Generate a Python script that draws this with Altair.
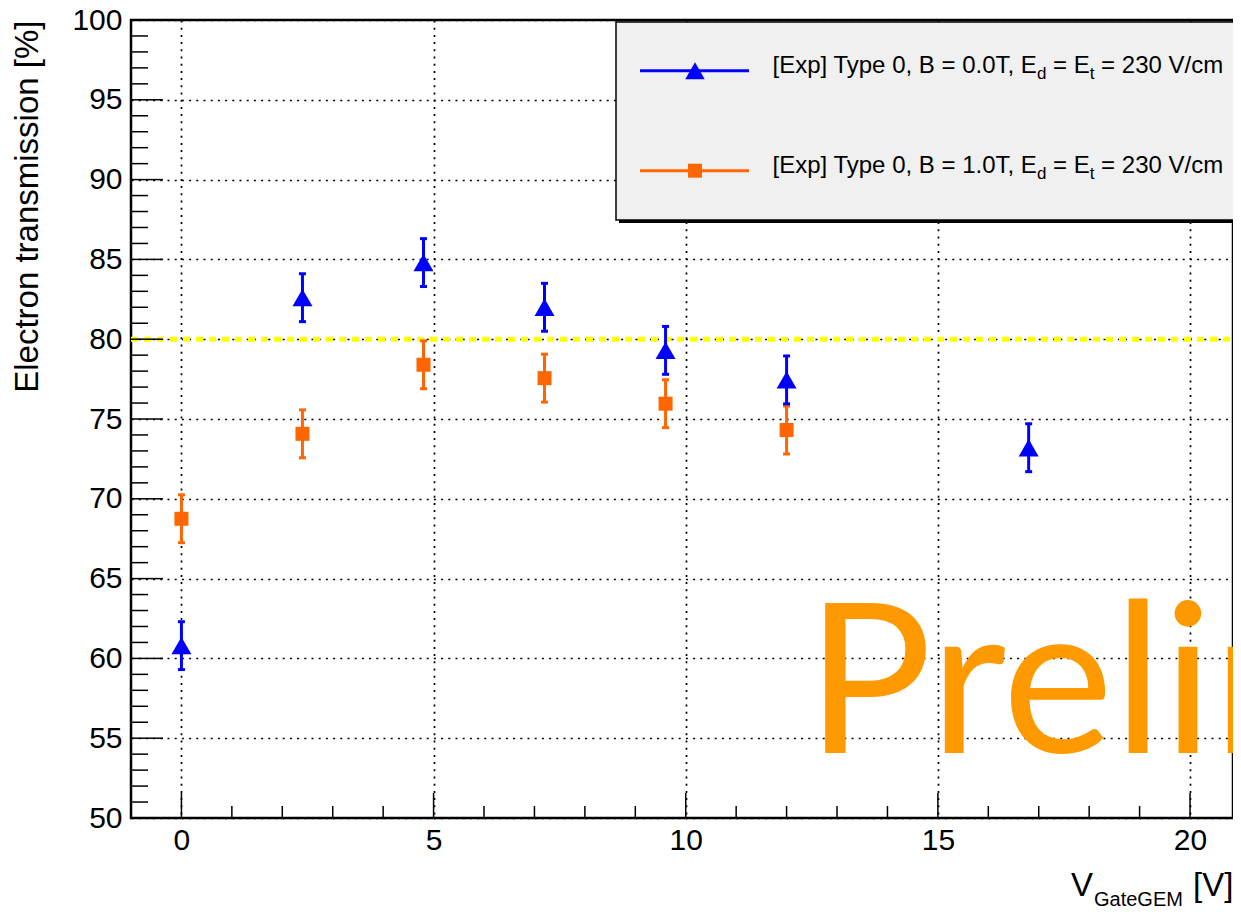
import altair as alt
import pandas as pd

# ---------------- data ----------------
x_blue = [0, 2.4, 4.8, 7.2, 9.6, 12, 16.8]
y_blue = [60.8, 82.6, 84.8, 82.0, 79.3, 77.45, 73.2]
e_blue = [1.5, 1.5, 1.5, 1.5, 1.5, 1.5, 1.5]

x_orange = [0, 2.4, 4.8, 7.2, 9.6, 12]
y_orange = [68.75, 74.07, 78.4, 77.56, 75.96, 74.31]
e_orange = [1.5, 1.5, 1.5, 1.5, 1.5, 1.5]

ref_level = [80]
x_major = [0, 5, 10, 15, 20]
x_minor = [-1, 1, 2, 3, 4, 6, 7, 8, 9, 11, 12, 13, 14, 16, 17, 18, 19]
y_major = [50, 55, 60, 65, 70, 75, 80, 85, 90, 95, 100]
y_minor = [v for v in range(50, 101) if v % 5 != 0]

legend_1 = ["[Exp] Type 0, B = 0.0T, E", "d", " = E", "t", " = 230 V/cm"]
legend_2 = ["[Exp] Type 0, B = 1.0T, E", "d", " = E", "t", " = 230 V/cm"]
y_title = "Electron transmission [%]"
x_title = ["V", "GateGEM", "[V]"]
watermark = "Preliminary"

BLUE = "#0000ff"
ORANGE = "#ff6600"
FONT = "Liberation Sans"

# ---------------- geometry ----------------
PL, PT = 131, 20           # plot origin on page
W, H = 1102, 798
PX_PER_UNIT = 50.43
X_MAX = -1 + W / PX_PER_UNIT

AW = {' ': 278, '[': 278, ']': 278, 'E': 667, 'x': 500, 'p': 556,
      'T': 611, 'y': 500, 'e': 556, ',': 278, 'B': 667, '=': 584, '.': 278,
      'V': 667, '/': 278, 'c': 500, 'm': 833, 'd': 556, 't': 278}
KERN = {('T', 'y'): -74, ('T', ','): -111}


def tw(s, size):
    w = sum(AW.get(ch, 556) for ch in s)
    w += sum(KERN.get((a, b), 0) for a, b in zip(s, s[1:]))
    return w / 1000.0 * size


xs = alt.Scale(domain=[-1, X_MAX], nice=False, zero=False)
ys = alt.Scale(domain=[50, 100], nice=False, zero=False)

AX = alt.Axis(values=x_major, ticks=False, tickSize=0, domain=False, grid=True,
              gridDash=[2, 5.2], gridColor="black", gridWidth=1.7, gridOpacity=1,
              labelFont=FONT, labelFontSize=30, labelColor="black", labelPadding=7,
              labelFlush=False, title=None)
AY = alt.Axis(values=y_major, ticks=False, tickSize=0, domain=False, grid=True,
              gridDash=[2, 5.2], gridColor="black", gridWidth=1.7, gridOpacity=1,
              labelFont=FONT, labelFontSize=30, labelColor="black", labelPadding=9,
              title=y_title, titleFont=FONT, titleFontSize=33, titleFontWeight="normal",
              titleColor="black", titleAngle=270, titleAlign="right",
              titleBaseline="alphabetic", titleX=37 - PL, titleY=0)


def X(f):
    return alt.X(f, scale=xs, axis=AX)


def Y(f):
    return alt.Y(f, scale=ys, axis=AY)


one = pd.DataFrame({"k": [0]})

blue_df = pd.DataFrame({"x": x_blue, "y": y_blue,
                        "lo": [a - b for a, b in zip(y_blue, e_blue)],
                        "hi": [a + b for a, b in zip(y_blue, e_blue)]})
orange_df = pd.DataFrame({"x": x_orange, "y": y_orange,
                          "lo": [a - b for a, b in zip(y_orange, e_orange)],
                          "hi": [a + b for a, b in zip(y_orange, e_orange)]})

layers = []

# watermark
layers.append(alt.Chart(one).mark_text(
    font="Lato", fontSize=210, color="#ff9900", align="left",
    baseline="alphabetic", clip=True).encode(
    x=alt.value(806 - PL), y=alt.value(753 - PT), text=alt.value(watermark)))

# yellow reference line
layers.append(alt.Chart(pd.DataFrame({"y": ref_level})).mark_rule(
    color="#ffff00", strokeWidth=5, strokeDash=[7, 6]).encode(
    y=Y("y:Q"), x=alt.value(0), x2=alt.value(W)))

# inward ticks
layers.append(alt.Chart(pd.DataFrame({"y": y_major})).mark_rule(color="black", strokeWidth=1.5).encode(
    y=Y("y:Q"), x=alt.value(0), x2=alt.value(32)))
layers.append(alt.Chart(pd.DataFrame({"y": y_minor})).mark_rule(color="black", strokeWidth=1.5).encode(
    y=Y("y:Q"), x=alt.value(0), x2=alt.value(17)))
layers.append(alt.Chart(pd.DataFrame({"x": x_major})).mark_rule(color="black", strokeWidth=1.5).encode(
    x=X("x:Q"), y=alt.value(H), y2=alt.value(H - 25)))
layers.append(alt.Chart(pd.DataFrame({"x": x_minor})).mark_rule(color="black", strokeWidth=1.5).encode(
    x=X("x:Q"), y=alt.value(H), y2=alt.value(H - 12)))

# legend box
LX0, LY0, LY1 = 616 - PL, 22 - PT, 220 - PT
layers.append(alt.Chart(one).mark_rect(color="black").encode(
    x=alt.value(LX0 + 3), x2=alt.value(W), y=alt.value(LY0 + 3), y2=alt.value(LY1 + 3)))
layers.append(alt.Chart(one).mark_rect(fill="#f0f0f0", stroke="black", strokeWidth=1.5).encode(
    x=alt.value(LX0), x2=alt.value(W + 5), y=alt.value(LY0), y2=alt.value(LY1)))

for (ly, color, shape, size, pieces) in [
        (70.7, BLUE, "triangle-up", 380, legend_1),
        (170.7, ORANGE, "square", 196, legend_2)]:
    layers.append(alt.Chart(one).mark_rule(color=color, strokeWidth=3).encode(
        x=alt.value(640 - PL), x2=alt.value(749 - PL), y=alt.value(ly - PT)))
    layers.append(alt.Chart(one).mark_point(shape=shape, filled=True, size=size,
                                            color=color, opacity=1).encode(
        x=alt.value(695 - PL), y=alt.value(ly - PT)))
    cx = 772.5
    base = ly + 2
    for i, p in enumerate(pieces):
        sub = (i % 2 == 1)
        fs = 17 if sub else 24
        lead = len(p) - len(p.lstrip(" "))
        cx += lead * 278 / 1000.0 * fs
        body = p.lstrip(" ")
        layers.append(alt.Chart(one).mark_text(
            font=FONT, fontSize=fs, color="black", align="left",
            baseline="alphabetic").encode(
            x=alt.value(cx - PL), y=alt.value(base + (6 if sub else 0) - PT),
            text=alt.value(body)))
        cx += tw(body, fs)

# x title (V_GateGEM [V])
for p, fs, px, by in [(x_title[0], 33, 1071, 896), (x_title[1], 20, 1094, 906),
                      (x_title[2], 33, 1193, 896)]:
    layers.append(alt.Chart(one).mark_text(
        font=FONT, fontSize=fs, color="black", align="left",
        baseline="alphabetic").encode(
        x=alt.value(px - PL), y=alt.value(by - PT), text=alt.value(p)))


# data: error bars, caps, markers
def series(df, color, shape, size):
    bar = alt.Chart(df).mark_rule(color=color, strokeWidth=3).encode(
        x=X("x:Q"), y=Y("lo:Q"), y2="hi:Q")
    cap_lo = alt.Chart(df).mark_rule(color=color, strokeWidth=3, xOffset=-3.5, x2Offset=3.5).encode(
        x=X("x:Q"), x2="x:Q", y=Y("lo:Q"))
    cap_hi = alt.Chart(df).mark_rule(color=color, strokeWidth=3, xOffset=-3.5, x2Offset=3.5).encode(
        x=X("x:Q"), x2="x:Q", y=Y("hi:Q"))
    pts = alt.Chart(df).mark_point(shape=shape, filled=True, size=size,
                                   color=color, opacity=1).encode(
        x=X("x:Q"), y=Y("y:Q"))
    return [bar, cap_lo, cap_hi, pts]


layers += series(orange_df, ORANGE, "square", 196)
layers += series(blue_df, BLUE, "triangle-up", 400)

chart = alt.layer(*layers).properties(
    width=W, height=H,
    padding={"left": PL - 8, "top": PT - 8, "right": 0, "bottom": 96},
    autosize=alt.AutoSizeParams(type="none"),
    background="white",
).configure_view(stroke="black", strokeWidth=2.5)

chart.save("out.html", embed_options={"renderer": "svg", "actions": False})
